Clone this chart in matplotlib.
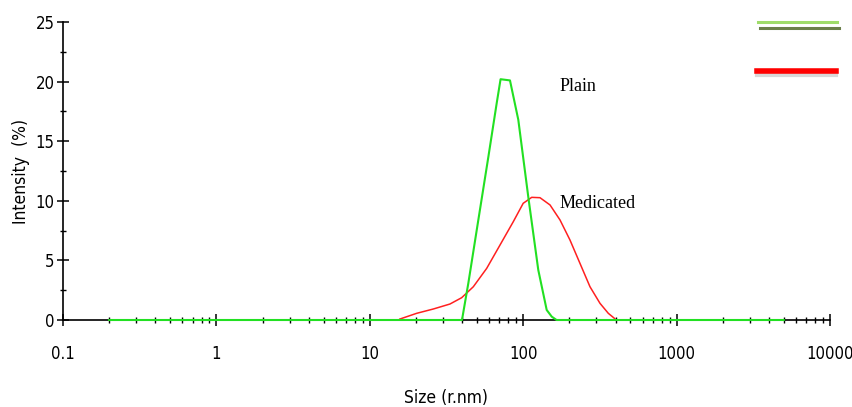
import matplotlib
matplotlib.use("Agg")
import matplotlib.pyplot as plt
import numpy as np
from matplotlib.ticker import FixedLocator, LogLocator, NullFormatter
from matplotlib import font_manager

# Data (radius in nm, intensity %)
plain_size = [0.2, 39.9, 43.9, 51.0, 59.3, 67.2, 71.2, 82, 92.9, 108, 125.4, 142.3, 153.5, 165, 5000]
plain_int = [0.0, 0.0, 3.1, 8.4, 13.7, 18.2, 20.2, 20.1, 16.8, 10.3, 4.2, 0.84, 0.28, 0.0, 0.0]

med_size = [15.7, 20.2, 25.9, 33.3, 39.7, 47.3, 57.8, 70.6, 86.2, 100, 113.6, 128.7,
            149.6, 173.8, 201.8, 234.5, 272.5, 316.6, 358.8, 396.5]
med_int = [0.08, 0.56, 0.92, 1.34, 1.87, 2.79, 4.33, 6.29, 8.25, 9.79, 10.29, 10.26,
           9.65, 8.39, 6.71, 4.75, 2.79, 1.40, 0.56, 0.1]

x_ticks = [0.1, 1, 10, 100, 1000, 10000]
x_ticklabels = ["0.1", "1", "10", "100", "1000", "10000"]
y_ticks = [0, 5, 10, 15, 20, 25]

names = {f.name for f in font_manager.fontManager.ttflist}
stretches = {(f.name, f.stretch) for f in font_manager.fontManager.ttflist}
if "Liberation Sans Narrow" in names:
    tickfont = dict(family="Liberation Sans Narrow")
elif ("DejaVu Sans", "condensed") in stretches or ("DejaVu Sans", 400) in stretches:
    tickfont = dict(family="DejaVu Sans", stretch="condensed")
else:
    tickfont = dict(family="Liberation Sans")

fig = plt.figure(figsize=(8.53, 4.07), dpi=100)
ax = fig.add_axes([63/853, 87/407, (830-63)/853, (320-22)/407])

ax.plot(med_size, med_int, color="#ff2020", lw=1.1, zorder=3, clip_on=False)
ax.plot(plain_size, plain_int, color="#22e022", lw=1.5, zorder=4, clip_on=False)

ax.set_xscale("log")
ax.set_xlim(0.1, 10000)
ax.set_ylim(0, 25)
ax.spines["top"].set_visible(False)
ax.spines["right"].set_visible(False)
ax.spines["left"].set_linewidth(1.2)
ax.spines["bottom"].set_linewidth(1.2)

ax.xaxis.set_major_locator(FixedLocator(x_ticks))
ax.set_xticklabels(x_ticklabels)
ax.xaxis.set_minor_locator(LogLocator(base=10, subs=np.arange(2, 10), numticks=20))
ax.xaxis.set_minor_formatter(NullFormatter())
ax.set_yticks(y_ticks)
ax.yaxis.set_minor_locator(FixedLocator([2.5, 7.5, 12.5, 17.5, 22.5]))

ax.tick_params(axis="both", which="major", direction="inout", length=8, width=1.1,
               labelsize=12)
ax.tick_params(axis="both", which="minor", direction="inout", length=5, width=1.0)
for lab in ax.get_xticklabels() + ax.get_yticklabels():
    lab.set(**tickfont)
ax.tick_params(axis="x", pad=14)
ax.tick_params(axis="y", pad=2)

ax.set_xlabel("Size (r.nm)", fontsize=12.5, labelpad=19, **tickfont)
ax.set_ylabel("Intensity  (%)", fontsize=12.5, labelpad=4, **tickfont)

ax.text(172, 19.6, "Plain", fontsize=13, family="Liberation Serif", va="center")
ax.text(172, 9.8, "Medicated", fontsize=13, family="Liberation Serif", va="center")

# legend-like decorative lines at top right
fig.add_artist(plt.Line2D([758/853, 837/853], [1-22/407, 1-22/407], color="#9fdc6a", lw=2.2))
fig.add_artist(plt.Line2D([760/853, 839/853], [1-28/407, 1-28/407], color="#6b7f4a", lw=2.2))
fig.add_artist(plt.Line2D([757/853, 836/853], [1-75/407, 1-75/407], color="#d8d8d8", lw=3))
fig.add_artist(plt.Line2D([757/853, 836/853], [1-71/407, 1-71/407], color="#ff0000", lw=4))

fig.savefig("out.png", dpi=100)
